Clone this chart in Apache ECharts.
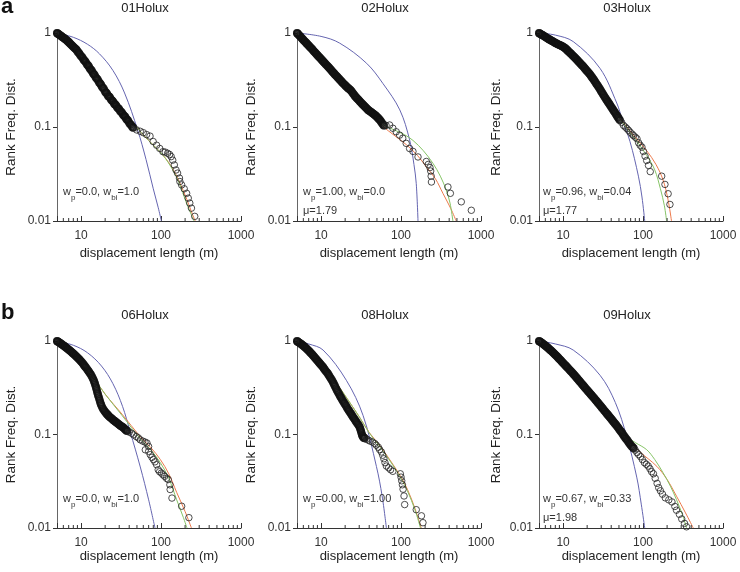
<!DOCTYPE html>
<html>
<head>
<meta charset="utf-8">
<script src="https://cdn.jsdelivr.net/npm/echarts@6/dist/echarts.min.js"></script>
<style>html,body{margin:0;padding:0;background:#fff;}#c{width:740px;height:572px;}</style>
</head>
<body>
<div id="c"></div>
<script>
const titles = ['01Holux','02Holux','03Holux','06Holux','08Holux','09Holux'];
const wpLabels = ['0.0','1.00','0.96','0.0','0.00','0.67'];
const wbiLabels = ['1.0','0.0','0.04','1.0','1.00','0.33'];
const muLabels = [null,'1.79','1.77',null,null,'1.98'];
const xMajorTicks = [10,100,1000];
const yMajorTicks = [0.01,0.1,1];
const xMinorTicks = [6,7,8,9,20,30,40,50,60,70,80,90,200,300,400,500,600,700,800,900];

// dense part (band, read in two passes) and sparse tail of each rank-frequency curve
const band01 = [[5,1],[5.05,0.99],[5.1,0.985],[5.23,0.972],[5.46,0.946],[5.71,0.92],[5.96,0.895],[6.23,0.871],[6.51,0.847],[6.8,0.819],[7.11,0.789],[7.43,0.76],[7.76,0.733],[8.11,0.706],[8.48,0.68],[8.86,0.655],[9.26,0.62],[9.67,0.591],[10.1,0.562],[10.6,0.532],[11,0.51],[11.5,0.484],[12.1,0.455],[12.6,0.433],[13.2,0.408],[13.8,0.386],[14.4,0.365],[15,0.347],[15.7,0.328],[16.4,0.31],[17.2,0.292],[17.9,0.277],[18.7,0.262],[19.6,0.246],[20.5,0.232],[21.4,0.22],[22.3,0.211],[23.3,0.201],[24.4,0.191],[25.5,0.182],[26.6,0.174],[27.8,0.166],[29.1,0.158],[30.4,0.151],[31.7,0.145],[33.2,0.137],[34.7,0.131],[36.2,0.125],[37.8,0.119],[39.5,0.113],[41.3,0.107],[43.2,0.102],[45.1,0.098]];
const band01b = [[5.35,0.959],[5.58,0.933],[5.83,0.907],[6.09,0.883],[6.37,0.859],[6.65,0.833],[6.95,0.804],[7.27,0.774],[7.6,0.746],[7.93,0.719],[8.3,0.693],[8.67,0.672],[9.06,0.633],[9.46,0.61],[9.88,0.572],[10.35,0.552],[10.8,0.517],[11.25,0.5],[11.8,0.466],[12.35,0.448],[12.9,0.417],[13.5,0.4],[14.1,0.372],[14.7,0.359],[15.35,0.334],[16.05,0.322],[16.8,0.298],[17.55,0.287],[18.3,0.266],[19.15,0.257],[20.05,0.236],[20.95,0.229],[21.85,0.213],[22.8,0.208],[23.85,0.194],[24.95,0.188],[26.05,0.176],[27.2,0.171],[28.45,0.16],[29.75,0.156],[31.05,0.146],[32.45,0.142],[33.95,0.133],[35.45,0.129],[37,0.121],[38.65,0.117],[40.4,0.109],[42.25,0.105],[44.15,0.099]];
const tail01 = [[49.6,0.093],[55,0.09],[60,0.087],[66,0.083],[72.8,0.08],[79.7,0.0701],[88,0.064],[96.3,0.0591],[105.7,0.0546],[113,0.054],[121,0.0525],[128,0.051],[134,0.0484],[140,0.0444],[146.6,0.0395],[154,0.0349],[161,0.0323],[170,0.0286],[172,0.0263],[181,0.0242],[195,0.022],[209,0.0197],[219,0.0175],[229,0.0155],[240,0.0137],[264,0.0112]];
const blue01 = [[5,1],[8,0.9],[12,0.76],[17,0.6],[25,0.4],[35,0.23],[51,0.093],[65,0.045],[80,0.022],[92,0.014],[101,0.01]];
const red01 = [[5,1],[10,0.53],[20,0.27],[30,0.175],[47,0.105],[70,0.072],[106,0.05],[140,0.036],[170,0.026],[210,0.017],[245,0.012],[268,0.01]];
const green01 = [[5,1],[10,0.53],[20,0.27],[30,0.175],[47,0.105],[70,0.072],[106,0.05],[140,0.035],[170,0.025],[205,0.016],[238,0.0118],[258,0.01]];

const band02 = [[5,1],[5.05,0.99],[5.1,0.98],[5.23,0.96],[5.46,0.925],[5.71,0.885],[5.96,0.85],[6.23,0.815],[6.51,0.785],[6.8,0.755],[7.11,0.725],[7.43,0.695],[7.76,0.67],[8.11,0.64],[8.48,0.615],[8.86,0.59],[9.26,0.566],[9.67,0.545],[10.1,0.523],[10.6,0.5],[11,0.483],[11.5,0.463],[12.1,0.443],[12.6,0.426],[13.2,0.408],[13.8,0.39],[14.4,0.375],[15,0.36],[15.7,0.346],[16.4,0.332],[17.2,0.318],[17.9,0.306],[18.7,0.294],[19.6,0.283],[20.5,0.272],[21.4,0.262],[22.3,0.255],[23.3,0.247],[24.4,0.235],[25.5,0.224],[26.6,0.213],[27.8,0.204],[29.1,0.196],[30.4,0.188],[31.7,0.181],[33.2,0.174],[34.7,0.167],[36.2,0.161],[37.8,0.155],[39.5,0.15],[41.3,0.146],[43.2,0.142],[45.1,0.138],[47.1,0.134],[49.2,0.13],[51.5,0.125],[53.8,0.12],[56.2,0.114],[58.7,0.108],[61.4,0.103]];
const band02b = [[5.35,0.942],[5.58,0.905],[5.83,0.867],[6.09,0.832],[6.37,0.8],[6.65,0.77],[6.95,0.74],[7.27,0.71],[7.6,0.682],[7.93,0.655],[8.3,0.627],[8.67,0.602],[9.06,0.578],[9.46,0.555],[9.88,0.534],[10.35,0.511],[10.8,0.491],[11.25,0.473],[11.8,0.453],[12.35,0.434],[12.9,0.417],[13.5,0.399],[14.1,0.382],[14.7,0.367],[15.35,0.353],[16.05,0.339],[16.8,0.325],[17.55,0.312],[18.3,0.3],[19.15,0.288],[20.05,0.277],[20.95,0.268],[21.85,0.259],[22.8,0.251],[23.85,0.241],[24.95,0.229],[26.05,0.218],[27.2,0.208],[28.45,0.2],[29.75,0.192],[31.05,0.184],[32.45,0.177],[33.95,0.17],[35.45,0.164],[37,0.158],[38.65,0.152],[40.4,0.148],[42.25,0.144],[44.15,0.14],[46.1,0.136],[48.15,0.132],[50.3,0.127],[52.6,0.122],[55,0.117],[57.4,0.111],[60,0.105]];
const tail02 = [[65,0.104],[72,0.105],[79,0.097],[87,0.089],[96,0.082],[105,0.076],[116,0.067],[128,0.059],[141,0.055],[163,0.048],[207,0.043],[219,0.04],[230,0.037],[235,0.034],[238,0.03],[240,0.026],[386,0.023],[414,0.0197],[567,0.016],[757,0.013]];
const blue02 = [[5,1],[10,0.92],[17.1,0.78],[37.1,0.476],[59.4,0.29],[96.5,0.152],[128,0.073],[145,0.04],[155,0.025],[163,0.01]];
const red02 = [[5,1],[10,0.53],[20,0.28],[40,0.145],[60,0.101],[80,0.083],[116,0.065],[160,0.05],[207,0.0377],[270,0.028],[334,0.0197],[420,0.0135],[490,0.01]];
const green02 = [[5,1],[10,0.53],[20,0.28],[40,0.145],[60,0.106],[80,0.094],[110,0.083],[141,0.072],[190,0.056],[251,0.041],[310,0.03],[367,0.0214],[410,0.0155],[445,0.01]];

const band03 = [[5,1],[5.05,0.99],[5.1,0.985],[5.23,0.975],[5.46,0.955],[5.71,0.935],[5.96,0.91],[6.23,0.89],[6.51,0.87],[6.8,0.85],[7.11,0.83],[7.43,0.815],[7.76,0.795],[8.11,0.78],[8.48,0.765],[8.86,0.75],[9.26,0.74],[9.67,0.725],[10.1,0.71],[10.6,0.69],[11,0.67],[11.5,0.645],[12.1,0.62],[12.6,0.6],[13.2,0.575],[13.8,0.555],[14.4,0.535],[15,0.515],[15.7,0.495],[16.4,0.475],[17.2,0.455],[17.9,0.44],[18.7,0.42],[19.6,0.4],[20.5,0.385],[21.4,0.368],[22.3,0.35],[23.3,0.333],[24.4,0.315],[25.5,0.297],[26.6,0.282],[27.8,0.266],[29.1,0.25],[30.4,0.235],[31.7,0.222],[33.2,0.208],[34.7,0.196],[36.2,0.186],[37.8,0.176],[39.5,0.166],[41.3,0.157],[43.2,0.148],[45.1,0.14],[47.1,0.132],[49.2,0.125],[51.5,0.118]];
const band03b = [[5.35,0.965],[5.58,0.945],[5.83,0.922],[6.09,0.9],[6.37,0.88],[6.65,0.86],[6.95,0.84],[7.27,0.822],[7.6,0.805],[7.93,0.787],[8.3,0.772],[8.67,0.757],[9.06,0.745],[9.46,0.732],[9.88,0.717],[10.35,0.7],[10.8,0.68],[11.25,0.657],[11.8,0.632],[12.35,0.61],[12.9,0.587],[13.5,0.565],[14.1,0.545],[14.7,0.525],[15.35,0.505],[16.05,0.485],[16.8,0.465],[17.55,0.447],[18.3,0.43],[19.15,0.41],[20.05,0.392],[20.95,0.376],[21.85,0.359],[22.8,0.341],[23.85,0.324],[24.95,0.306],[26.05,0.289],[27.2,0.274],[28.45,0.258],[29.75,0.242],[31.05,0.228],[32.45,0.215],[33.95,0.202],[35.45,0.191],[37,0.181],[38.65,0.171],[40.4,0.161],[42.25,0.152],[44.15,0.144],[46.1,0.136],[48.15,0.128],[50.3,0.121]];
const tail03 = [[54,0.112],[57,0.104],[60,0.1],[63,0.096],[66,0.092],[69,0.088],[73,0.084],[76,0.081],[80,0.078],[84,0.075],[88,0.068],[92,0.064],[97,0.061],[101,0.055],[106,0.049],[111,0.044],[117,0.039],[123,0.0335],[171,0.03],[188,0.0245],[206,0.0195],[217,0.015]];
const blue03 = [[5,1],[8,0.95],[13.4,0.81],[29,0.42],[46.9,0.18],[55,0.12],[68.7,0.07],[87.5,0.03],[97,0.018],[105,0.01]];
const red03 = [[5,1],[10,0.7],[20,0.385],[30,0.235],[40,0.165],[55,0.115],[80,0.078],[111,0.056],[145,0.04],[178,0.0273],[205,0.017],[227,0.01]];
const green03 = [[5,1],[10,0.7],[20,0.385],[30,0.235],[40,0.165],[55,0.113],[80,0.074],[111,0.05],[140,0.035],[165,0.022],[185,0.0145],[197,0.01]];

const band06 = [[5,1],[5.05,0.99],[5.1,0.985],[5.23,0.975],[5.46,0.95],[5.71,0.925],[5.96,0.9],[6.23,0.875],[6.51,0.85],[6.8,0.825],[7.11,0.8],[7.43,0.775],[7.76,0.75],[8.11,0.725],[8.48,0.7],[8.86,0.675],[9.26,0.65],[9.67,0.625],[10.1,0.6],[10.6,0.57],[11,0.545],[11.5,0.52],[12.1,0.49],[12.6,0.465],[13.2,0.44],[13.8,0.41],[14.4,0.38],[14.8,0.355],[15.2,0.33],[15.6,0.305],[16,0.28],[16.4,0.26],[16.9,0.24],[17.4,0.22],[17.9,0.205],[18.7,0.19],[19.6,0.178],[20.5,0.17],[21.4,0.163],[22.3,0.157],[23.3,0.152],[24.4,0.147],[25.5,0.142],[26.6,0.138],[27.8,0.134],[29.1,0.13],[30.4,0.126],[31.7,0.123],[33.2,0.12],[34.7,0.116],[36.2,0.112],[37.8,0.109]];
const band06b = [[5.35,0.962],[5.58,0.937],[5.83,0.912],[6.09,0.887],[6.37,0.862],[6.65,0.837],[6.95,0.812],[7.27,0.787],[7.6,0.762],[7.93,0.737],[8.3,0.712],[8.67,0.687],[9.06,0.662],[9.46,0.637],[9.88,0.612],[10.35,0.585],[10.8,0.557],[11.25,0.532],[11.8,0.505],[12.35,0.477],[12.9,0.452],[13.5,0.425],[14.1,0.395],[14.6,0.367],[15,0.342],[15.4,0.317],[15.8,0.292],[16.2,0.27],[16.65,0.25],[17.15,0.23],[17.65,0.212],[18.3,0.197],[19.15,0.184],[20.05,0.174],[20.95,0.166],[21.85,0.16],[22.8,0.154],[23.85,0.149],[24.95,0.144],[26.05,0.14],[27.2,0.136],[28.45,0.132],[29.75,0.128],[31.05,0.124],[32.45,0.121],[33.95,0.118],[35.45,0.114],[37,0.11]];
const tail06 = [[40,0.106],[43,0.103],[45.5,0.099],[49,0.095],[52,0.092],[55,0.0877],[59,0.085],[63,0.083],[66.7,0.081],[69.9,0.0744],[63.6,0.0686],[70,0.066],[73.3,0.0609],[77,0.057],[80.3,0.054],[84,0.051],[88,0.0475],[92.2,0.042],[96,0.04],[101,0.0387],[106,0.037],[111,0.0357],[117,0.034],[123,0.033],[129,0.029],[130,0.0258],[137,0.0209],[181,0.0171],[223,0.0129]];
const blue06 = [[5,1],[8,0.9],[12,0.75],[18,0.54],[25,0.35],[33,0.2],[41,0.108],[55,0.045],[70,0.02],[84,0.01]];
const red06 = [[5,1],[10,0.56],[15,0.38],[20,0.27],[32.5,0.165],[55,0.095],[75,0.072],[98,0.054],[125,0.038],[157,0.024],[200,0.015],[240,0.01]];
const green06 = [[5,1],[10,0.56],[15,0.38],[20,0.27],[32.5,0.16],[55,0.09],[75,0.068],[98,0.05],[125,0.034],[157,0.02],[190,0.013],[211,0.01]];

const band08 = [[5,1],[5.05,0.99],[5.1,0.98],[5.23,0.97],[5.46,0.945],[5.71,0.92],[5.96,0.895],[6.23,0.865],[6.51,0.835],[6.8,0.805],[7.11,0.775],[7.43,0.745],[7.76,0.715],[8.11,0.685],[8.48,0.655],[8.86,0.627],[9.26,0.6],[9.67,0.575],[10.1,0.55],[10.6,0.525],[11,0.5],[11.5,0.475],[12.1,0.45],[12.6,0.425],[13.2,0.4],[13.8,0.375],[14.4,0.35],[15,0.325],[15.7,0.3],[16.4,0.28],[17.2,0.26],[17.9,0.245],[18.7,0.23],[19.6,0.215],[20.5,0.203],[21.4,0.19],[22.3,0.18],[23.3,0.17],[24.4,0.16],[25.5,0.151],[26.6,0.143],[27.8,0.135],[29.1,0.128],[30.4,0.12],[31.2,0.112],[32,0.104],[32.8,0.097],[33.8,0.093],[35.2,0.091]];
const band08b = [[5.35,0.957],[5.58,0.932],[5.83,0.907],[6.09,0.88],[6.37,0.85],[6.65,0.82],[6.95,0.79],[7.27,0.76],[7.6,0.73],[7.93,0.7],[8.3,0.67],[8.67,0.641],[9.06,0.613],[9.46,0.587],[9.88,0.562],[10.35,0.537],[10.8,0.512],[11.25,0.487],[11.8,0.462],[12.35,0.437],[12.9,0.412],[13.5,0.387],[14.1,0.362],[14.7,0.337],[15.35,0.312],[16.05,0.29],[16.8,0.27],[17.55,0.252],[18.3,0.237],[19.15,0.222],[20.05,0.209],[20.95,0.196],[21.85,0.185],[22.8,0.175],[23.85,0.165],[24.95,0.155],[26.05,0.147],[27.2,0.139],[28.45,0.131],[29.75,0.124],[30.8,0.116],[31.6,0.108],[32.4,0.1],[33.3,0.095],[34.5,0.092]];
const tail08 = [[37,0.089],[39,0.087],[41,0.085],[44,0.083],[47,0.08],[49,0.077],[52,0.073],[54,0.069],[56.8,0.065],[59,0.06],[61,0.055],[63,0.05],[65.6,0.046],[70,0.044],[74,0.042],[79,0.0404],[98,0.038],[100,0.035],[102,0.032],[104,0.029],[106,0.026],[109,0.022],[111,0.0178],[155,0.0157],[180,0.0135],[188,0.0114]];
const blue08 = [[5,1],[7,0.93],[10.6,0.8],[20.7,0.38],[33.5,0.16],[49.2,0.0456],[58,0.022],[65.6,0.01]];
const red08 = [[5,1],[10,0.57],[15,0.37],[20,0.26],[30,0.155],[40,0.105],[55,0.075],[79,0.048],[100,0.035],[120,0.026],[150,0.016],[179,0.01]];
const green08 = [[5,1],[10,0.57],[15,0.37],[20,0.26],[30,0.155],[40,0.104],[55,0.073],[79,0.047],[100,0.034],[120,0.025],[150,0.0155],[175,0.01]];

const band09 = [[5,1],[5.05,0.99],[5.1,0.985],[5.23,0.975],[5.46,0.95],[5.71,0.922],[5.96,0.895],[6.23,0.868],[6.51,0.84],[6.8,0.812],[7.11,0.785],[7.43,0.758],[7.76,0.73],[8.11,0.703],[8.48,0.677],[8.86,0.651],[9.26,0.626],[9.67,0.601],[10.1,0.578],[10.6,0.553],[11,0.535],[11.5,0.513],[12.1,0.49],[12.6,0.472],[13.2,0.452],[13.8,0.433],[14.4,0.415],[15,0.398],[15.7,0.38],[16.4,0.364],[17.2,0.347],[17.9,0.333],[18.7,0.319],[19.6,0.304],[20.5,0.291],[21.4,0.279],[22.3,0.268],[23.3,0.256],[24.4,0.245],[25.5,0.234],[26.6,0.224],[27.8,0.214],[29.1,0.204],[30.4,0.195],[31.7,0.187],[33.2,0.178],[34.7,0.17],[36.2,0.163],[37.8,0.156],[39.5,0.149],[41.3,0.142],[43.2,0.135],[45.1,0.129],[47.1,0.123],[49.2,0.117],[51.5,0.111],[53.8,0.106],[56.2,0.1],[58.7,0.095],[61.4,0.09],[64.1,0.086],[67,0.081],[70,0.077],[73.5,0.074],[76.5,0.071]];
const band09b = [[5.35,0.962],[5.58,0.936],[5.83,0.908],[6.09,0.881],[6.37,0.854],[6.65,0.826],[6.95,0.798],[7.27,0.771],[7.6,0.744],[7.93,0.716],[8.3,0.69],[8.67,0.664],[9.06,0.638],[9.46,0.613],[9.88,0.589],[10.35,0.565],[10.8,0.544],[11.25,0.524],[11.8,0.501],[12.35,0.481],[12.9,0.462],[13.5,0.442],[14.1,0.424],[14.7,0.406],[15.35,0.389],[16.05,0.372],[16.8,0.355],[17.55,0.34],[18.3,0.326],[19.15,0.311],[20.05,0.297],[20.95,0.285],[21.85,0.273],[22.8,0.262],[23.85,0.25],[24.95,0.239],[26.05,0.229],[27.2,0.219],[28.45,0.209],[29.75,0.2],[31.05,0.191],[32.45,0.182],[33.95,0.174],[35.45,0.166],[37,0.159],[38.65,0.152],[40.4,0.145],[42.25,0.138],[44.15,0.132],[46.1,0.126],[48.15,0.12],[50.3,0.114],[52.6,0.108],[55,0.103],[57.4,0.097],[60,0.092],[62.7,0.088],[65.5,0.083],[68.5,0.079],[71.7,0.075],[75,0.072]];
const tail09 = [[80,0.068],[84,0.064],[88,0.061],[93,0.058],[98,0.054],[104,0.05],[110,0.048],[116,0.046],[122,0.043],[128,0.04],[135,0.038],[142,0.034],[150,0.03],[157,0.027],[165,0.025],[175,0.023],[190,0.021],[210,0.02],[230,0.019],[250,0.017],[262,0.0155],[285,0.014],[305,0.0125],[330,0.0112],[350,0.0103]];
const blue09 = [[5,1],[8,0.93],[13.4,0.8],[29,0.43],[45,0.22],[62.5,0.095],[83.4,0.035],[95,0.018],[105,0.01]];
const red09 = [[5,1],[10,0.54],[20,0.275],[35,0.15],[56.6,0.1],[90,0.066],[149,0.0456],[200,0.033],[262,0.0219],[340,0.0145],[425,0.01]];
const green09 = [[5,1],[10,0.54],[20,0.275],[35,0.15],[56.6,0.1],[80,0.082],[111,0.0688],[140,0.054],[178,0.039],[220,0.028],[262,0.0201],[310,0.014],[350,0.01]];

const bandSets = [band01.concat(band01b), band02.concat(band02b), band03.concat(band03b), band06.concat(band06b), band08.concat(band08b), band09.concat(band09b)];
const tailSets = [tail01, tail02, tail03, tail06, tail08, tail09];
const blueSets = [blue01, blue02, blue03, blue06, blue08, blue09];
const redSets = [red01, red02, red03, red06, red08, red09];
const greenSets = [green01, green02, green03, green06, green08, green09];

const FONT = 'Liberation Sans, Arial, sans-serif';
const gridLefts = [57, 297, 539];
const gridTops = [33, 341];
const gridW = 184, gridHs = [188, 187];

const nearTick = (v, list) => list.find(t => Math.abs(Math.log10(v) - Math.log10(t)) < 1e-6);

const grids = [], xAxes = [], yAxes = [], series = [], titleList = [];
for (let i = 0; i < 6; i++) {
  const row = Math.floor(i / 3), col = i % 3;
  grids.push({left: gridLefts[col], top: gridTops[row], width: gridW, height: gridHs[row], containLabel: false});
  xAxes.push({
    gridIndex: i, type: 'log', logBase: 10, min: 5, max: 1000,
    axisLine: {lineStyle: {color: '#333', width: 1}},
    axisTick: {inside: true, length: 5, lineStyle: {color: '#333'}},
    axisLabel: {fontFamily: FONT, fontSize: 12, color: '#333', margin: 9,
      formatter: v => { const t = nearTick(v, xMajorTicks); return t === undefined ? '' : String(t); }},
    splitLine: {show: false},
    name: 'displacement length (m)', nameLocation: 'middle', nameGap: row === 0 ? 26 : 22,
    nameTextStyle: {fontFamily: FONT, fontSize: 13, color: '#222'}
  });
  yAxes.push({
    gridIndex: i, type: 'log', logBase: 10, min: 0.01, max: 1,
    axisLine: {lineStyle: {color: '#666', width: 1}},
    axisTick: {inside: false, length: 4, lineStyle: {color: '#333'}},
    axisLabel: {fontFamily: FONT, fontSize: 12, color: '#333', margin: 6,
      formatter: v => { const t = nearTick(v, yMajorTicks); return t === undefined ? '' : String(t); }},
    splitLine: {show: false},
    name: 'Rank Freq. Dist.', nameLocation: 'middle', nameGap: col === 2 ? 36 : 39,
    nameTextStyle: {fontFamily: FONT, fontSize: 13.5, color: '#222'}
  });
  series.push({type: 'line', xAxisIndex: i, yAxisIndex: i, data: blueSets[i], smooth: 0.35, symbol: 'none', lineStyle: {color: '#6565b0', width: 1}, z: 2});
  series.push({type: 'line', xAxisIndex: i, yAxisIndex: i, data: redSets[i], smooth: 0.35, symbol: 'none', lineStyle: {color: '#ec7a4c', width: 1}, z: 2});
  series.push({type: 'line', xAxisIndex: i, yAxisIndex: i, data: greenSets[i], smooth: 0.35, symbol: 'none', lineStyle: {color: '#86c466', width: 1}, z: 2});
  series.push({type: 'scatter', xAxisIndex: i, yAxisIndex: i, data: bandSets[i], symbol: 'circle', symbolSize: 6.5,
    itemStyle: {color: 'rgba(0,0,0,0)', borderColor: '#111', borderWidth: 1.6}, z: 3});
  series.push({type: 'scatter', xAxisIndex: i, yAxisIndex: i, data: tailSets[i], symbol: 'circle', symbolSize: 6.5,
    itemStyle: {color: 'rgba(0,0,0,0)', borderColor: '#222', borderWidth: 1}, z: 3});
  series.push({type: 'custom', xAxisIndex: i, yAxisIndex: i, silent: true, z: 4,
    data: xMinorTicks.map(v => [v, 0.01]),
    renderItem: (params, api) => {
      const p = api.coord([api.value(0), api.value(1)]);
      return {type: 'line', shape: {x1: p[0], y1: p[1], x2: p[0], y2: p[1] - 3}, style: {stroke: '#333', lineWidth: 1}};
    }});
  titleList.push({text: titles[i], left: gridLefts[col] + gridW / 2 - 4, top: row === 0 ? 2 : 309, textAlign: 'center', padding: 0,
    textStyle: {fontFamily: FONT, fontSize: 13, fontWeight: 'normal', color: '#222'}});
  let txt = '{n|w}{s|p}{n|=' + wpLabels[i] + ', w}{s|bi}{n|=' + wbiLabels[i] + '}';
  if (muLabels[i]) txt += '\n{n|\u03bc=' + muLabels[i] + '}';
  const annTop = row === 0 ? 182 : 489;
  titleList.push({text: txt, left: gridLefts[col] + (col === 2 ? 4 : 6), top: annTop, padding: 0,
    textStyle: {fontWeight: 'normal', rich: {
      n: {fontFamily: FONT, fontSize: 11, fontWeight: 'normal', color: '#333', lineHeight: 17, verticalAlign: 'middle'},
      s: {fontFamily: FONT, fontSize: 8, fontWeight: 'normal', color: '#333', lineHeight: 20, verticalAlign: 'bottom'}
    }}});
}
titleList.push({text: 'a', left: 1, top: -4, padding: 0, textStyle: {fontFamily: FONT, fontSize: 22, fontWeight: 'bold', color: '#111'}});
titleList.push({text: 'b', left: 1, top: 302, padding: 0, textStyle: {fontFamily: FONT, fontSize: 22, fontWeight: 'bold', color: '#111'}});

const chart = echarts.init(document.getElementById('c'), null, {renderer: 'canvas'});
chart.setOption({
  animation: false,
  backgroundColor: '#fff',
  title: titleList,
  grid: grids,
  xAxis: xAxes,
  yAxis: yAxes,
  series: series
});
</script>
</body>
</html>
